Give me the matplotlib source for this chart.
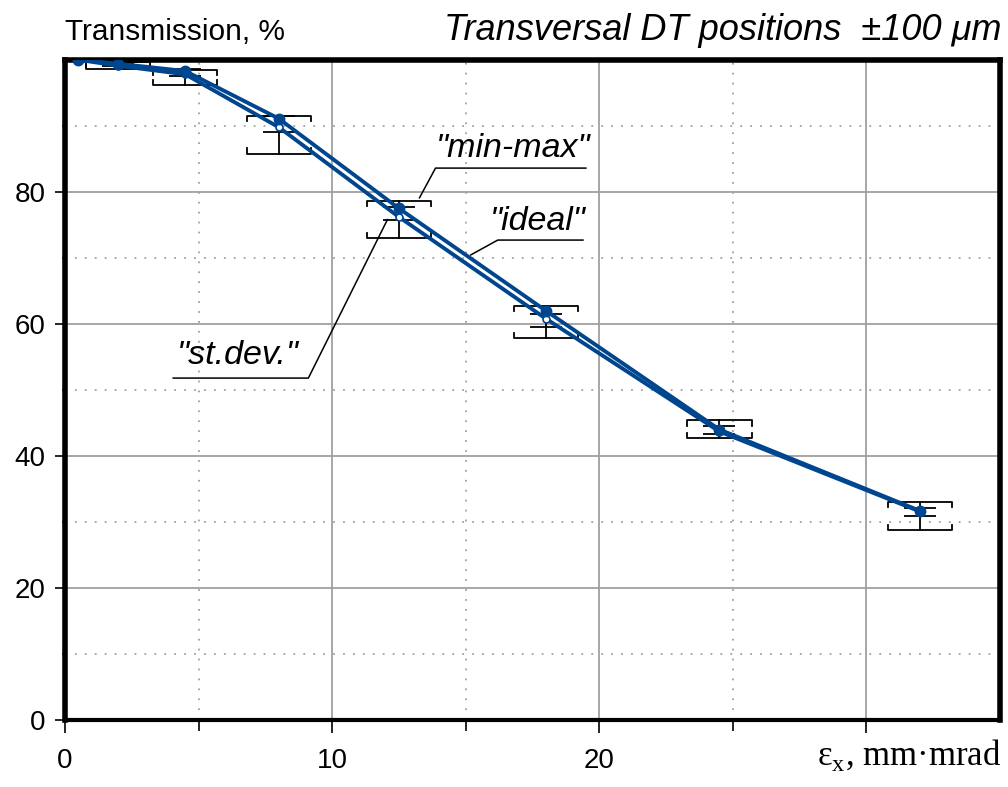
import matplotlib.pyplot as plt
from matplotlib.ticker import FixedLocator

# emittance, mm*mrad
emit = [0.5, 2, 4.5, 8, 12.5, 18, 24.5, 32]
# transmission, %
trans_mean = [100, 99.4, 98.3, 91.1, 77.5, 62.0, 44.0, 31.7]
trans_ideal = [100, 99.1, 97.8, 89.8, 76.2, 60.8, 43.7, 31.6]
# min-max spread
mm_lo = [99.8, 98.6, 96.2, 85.8, 73.0, 57.9, 42.7, 28.8]
mm_hi = [100, 99.6, 98.5, 91.5, 78.6, 62.7, 45.4, 33.0]
# standard deviation spread
sd_lo = [99.9, 99.0, 97.6, 89.1, 75.7, 59.6, 43.4, 30.9]
sd_hi = [100, 99.5, 98.6, 91.5, 77.7, 61.5, 44.5, 32.1]

x_ticks = [0, 10, 20, 30]
x_labels = ["0", "10", "20", ""]
y_ticks = [0, 20, 40, 60, 80]

BLUE = "#00468f"
SANS = "Liberation Sans"

fig = plt.figure(figsize=(10.08, 7.87), dpi=100)
ax = fig.add_axes([0.0645, 0.085, 0.9275, 0.839])

ax.set_xlim(0, 35)
ax.set_ylim(0, 100)

# grid: solid on majors, dotted on minors
for v in [10, 20, 30]:
    ax.axvline(v, color="#a0a0a0", lw=1.3, zorder=0)
for v in [5, 15, 25]:
    ax.axvline(v, color="#a0a0a0", lw=1.3, ls=(0, (1, 4.5)), zorder=0)
for v in [20, 40, 60, 80]:
    ax.axhline(v, color="#a0a0a0", lw=1.3, zorder=0)
for v in [10, 30, 50, 70, 90]:
    ax.axhline(v, color="#a0a0a0", lw=1.3, ls=(0, (1, 4.5)), zorder=0)

# min-max bars with bracket caps
half_w = 1.2
tick_h = 0.8
for x, lo, hi in zip(emit, mm_lo, mm_hi):
    ax.plot([x, x], [lo, hi], color="black", lw=1.3, zorder=2)
    ax.plot([x - half_w, x - half_w, x + half_w, x + half_w],
            [hi - tick_h, hi, hi, hi - tick_h], color="black", lw=1.3, zorder=2)
    ax.plot([x - half_w, x - half_w, x + half_w, x + half_w],
            [lo + tick_h, lo, lo, lo + tick_h], color="black", lw=1.3, zorder=2)

# st.dev bars
sd_w = 0.6
ax.vlines(emit, sd_lo, sd_hi, color="black", lw=1.3, zorder=2)
ax.hlines(sd_lo, [x - sd_w for x in emit], [x + sd_w for x in emit],
          color="black", lw=1.3, zorder=2)
ax.hlines(sd_hi, [x - sd_w for x in emit], [x + sd_w for x in emit],
          color="black", lw=1.3, zorder=2)

# the two curves
ax.plot(emit, trans_ideal, color=BLUE, lw=2.8, marker="o", ms=5,
        mfc="white", mec=BLUE, mew=1.2, zorder=3)
ax.plot(emit, trans_mean, color=BLUE, lw=2.8, marker="o", ms=7.5,
        mfc=BLUE, mec=BLUE, zorder=4)

# ticks
ax.xaxis.set_major_locator(FixedLocator(x_ticks))
ax.set_xticklabels(x_labels)
ax.xaxis.set_minor_locator(FixedLocator([5, 15, 25]))
ax.yaxis.set_major_locator(FixedLocator(y_ticks))
ax.yaxis.set_minor_locator(FixedLocator([10, 30, 50, 70, 90]))
ax.tick_params(axis="x", which="major", direction="out", length=9,
               width=1.2, labelsize=20, pad=11)
ax.tick_params(axis="x", which="minor", direction="out", length=8, width=1.2)
ax.tick_params(axis="y", which="major", direction="out", length=7,
               width=1.2, labelsize=20, pad=7)
ax.tick_params(axis="y", which="minor", direction="out", length=2.5, width=1.2)
for lab in ax.get_xticklabels() + ax.get_yticklabels():
    lab.set_family(SANS)

for side in ["left", "top", "right"]:
    ax.spines[side].set_linewidth(4)
ax.spines["bottom"].set_linewidth(3)

# leader lines and labels
lead = dict(color="black", lw=1.1, zorder=5, clip_on=False)
ax.plot([13.27, 13.87, 19.5], [79.1, 83.6, 83.6], **lead)
ax.plot([15.19, 16.2, 19.39], [70.45, 72.7, 72.7], **lead)
ax.plot([12.07, 9.11, 4.05], [75.8, 51.8, 51.8], **lead)

note = dict(family=SANS, style="italic", fontsize=24.5, va="baseline")
ax.text(13.9, 85.3, '"min-max"', **note)
ax.text(15.9, 74.3, '"ideal"', **note)
ax.text(4.2, 53.9, '"st.dev."', **note)

fig.text(0.064, 0.949, "Transmission, %", family=SANS, fontsize=21.5,
         ha="left", va="baseline")
fig.text(0.994, 0.949, "Transversal DT positions  \u00b1100 \u03bcm", family=SANS,
         style="italic", fontsize=26, ha="right", va="baseline")
fig.text(0.993, 0.028, "\u03b5$_\\mathregular{x}$, mm\u00b7mrad",
         family="Liberation Serif", fontsize=25, ha="right", va="baseline")

fig.savefig("out.png", dpi=100)
